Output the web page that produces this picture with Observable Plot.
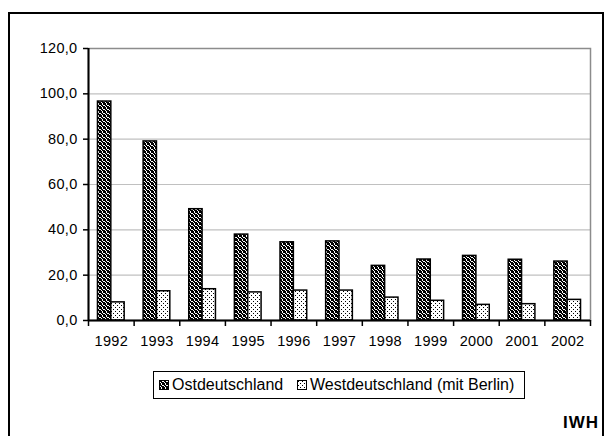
<!DOCTYPE html>
<html>
<head>
<meta charset="utf-8">
<script src="https://cdn.jsdelivr.net/npm/d3@7"></script>
<script src="https://cdn.jsdelivr.net/npm/@observablehq/plot@0.6"></script>
<style>
  html, body { margin: 0; padding: 0; background: #fff; overflow: hidden; }
  body { width: 604px; height: 436px; position: relative; font-family: "Liberation Sans", Arial, sans-serif; }
  #frame { position: absolute; left: 8px; top: 12px; width: 596px; height: 440px; border-top: 2px solid #000; border-left: 2px solid #000; border-right: 2px solid #000; box-sizing: border-box; }
  #chart { position: absolute; left: 0; top: 0; }
  #legend { position: absolute; left: 153px; top: 371px; width: 372px; height: 28px; border: 1px solid #000; box-sizing: border-box; font-size: 16px; color: #000; }
  #legend .item { position: absolute; top: 0; height: 26px; display: flex; align-items: center; }
  #legend svg { display: block; margin-right: 3px; }
  #iwh { position: absolute; left: 563px; top: 413px; font-weight: bold; font-size: 17px; letter-spacing: 1px; color: #000; }
</style>
</head>
<body>
<div id="frame"></div>
<div id="chart"></div>
<div id="legend"></div>
<div id="iwh">IWH</div>
<script>
const years = ["1992","1993","1994","1995","1996","1997","1998","1999","2000","2001","2002"];
const ost   = [96.6, 79.0, 49.1, 37.9, 34.5, 34.9, 24.1, 26.9, 28.5, 26.8, 26.0];
const west  = [8.0, 12.9, 13.8, 12.4, 13.2, 13.2, 10.1, 8.7, 6.9, 7.2, 9.1];
const yTicks = [0, 20, 40, 60, 80, 100, 120];
const gridTicks = [20, 40, 60, 80, 100];
const seriesNames = ["Ostdeutschland", "Westdeutschland (mit Berlin)"];

const W = 604, H = 360, ML = 88, MR = 14, MT = 48, MB = 40;
const padIn = 0.415, padOut = padIn / 2;
const step = (W - ML - MR) / (years.length - padIn + 2 * padOut);
const bw = step * (1 - padIn);

const rowsOst = years.map((y, i) => ({year: y, value: ost[i]}));
const rowsWest = years.map((y, i) => ({year: y, value: west[i]}));

const fmt = d => d.toFixed(1).replace(".", ",");

const plot = Plot.plot({
  width: W, height: H,
  marginLeft: ML, marginRight: MR, marginTop: MT, marginBottom: MB,
  style: {fontFamily: '"Liberation Sans", Arial, sans-serif', fontSize: "14.5px", color: "#000", background: "transparent", letterSpacing: "0.3px"},
  x: {type: "band", domain: years, paddingInner: padIn, paddingOuter: padOut, round: false, axis: null},
  y: {domain: [0, 120], axis: null},
  marks: [
    Plot.ruleY(gridTicks, {stroke: "#c0c0c0", strokeWidth: 1.2}),
    Plot.frame({stroke: "#8c8c8c", strokeWidth: 1.5}),
    Plot.barY(rowsOst, {x: "year", y: "value", fill: "url(#pOst)", stroke: "#000", strokeWidth: 1.5, insetRight: bw / 2}),
    Plot.barY(rowsWest, {x: "year", y: "value", fill: "url(#pWest)", stroke: "#000", strokeWidth: 1.5, insetLeft: bw / 2}),
    Plot.ruleX([years[0]], {dx: -step / 2, stroke: "#000", strokeWidth: 2}),
    Plot.ruleY([0], {stroke: "#000", strokeWidth: 2}),
    Plot.ruleX(years, {x: d => d, y1: 0, y2: 0, insetBottom: -6, dx: -step / 2, stroke: "#000", strokeWidth: 1.5}),
    Plot.ruleX([years[years.length - 1]], {x: d => d, y1: 0, y2: 0, insetBottom: -6, dx: step / 2, stroke: "#000", strokeWidth: 1.5}),
    Plot.axisY(yTicks, {tickSize: 5, tickPadding: 6, tickFormat: fmt, strokeWidth: 1.5, label: null}),
    Plot.axisX(years, {tickSize: 0, tickPadding: 15, label: null})
  ]
});

const defs = d3.select(plot).insert("defs", ":first-child");
const pO = defs.append("pattern").attr("id", "pOst").attr("patternUnits", "userSpaceOnUse").attr("width", 4).attr("height", 4);
pO.append("rect").attr("width", 4).attr("height", 4).attr("fill", "#fff");
[[0,0,2,1],[3,0,1,1],[1,1,2,1],[0,2,1,1],[2,2,2,1],[0,3,1,1],[1,3,1,1],[3,3,1,1]].forEach(([x,y,w,h]) =>
  pO.append("rect").attr("x", x).attr("y", y).attr("width", w).attr("height", h).attr("fill", "#000"));
const pW = defs.append("pattern").attr("id", "pWest").attr("patternUnits", "userSpaceOnUse").attr("width", 4).attr("height", 4);
pW.append("rect").attr("width", 4).attr("height", 4).attr("fill", "#fff");
[[1,1],[3,3]].forEach(([x,y]) => pW.append("rect").attr("x", x).attr("y", y).attr("width", 1).attr("height", 1).attr("fill", "#000"));

document.getElementById("chart").appendChild(plot);

// legend
const legend = d3.select("#legend");
const lefts = [5, 143];
seriesNames.forEach((name, i) => {
  const item = legend.append("div").attr("class", "item").style("left", lefts[i] + "px");
  const s = item.append("svg").attr("width", 10).attr("height", 10);
  s.append("rect").attr("x", 0.5).attr("y", 0.5).attr("width", 9).attr("height", 9)
    .attr("fill", i === 0 ? "url(#pOst)" : "url(#pWest)").attr("stroke", "#000");
  item.append("span").text(name);
});
</script>
</body>
</html>
